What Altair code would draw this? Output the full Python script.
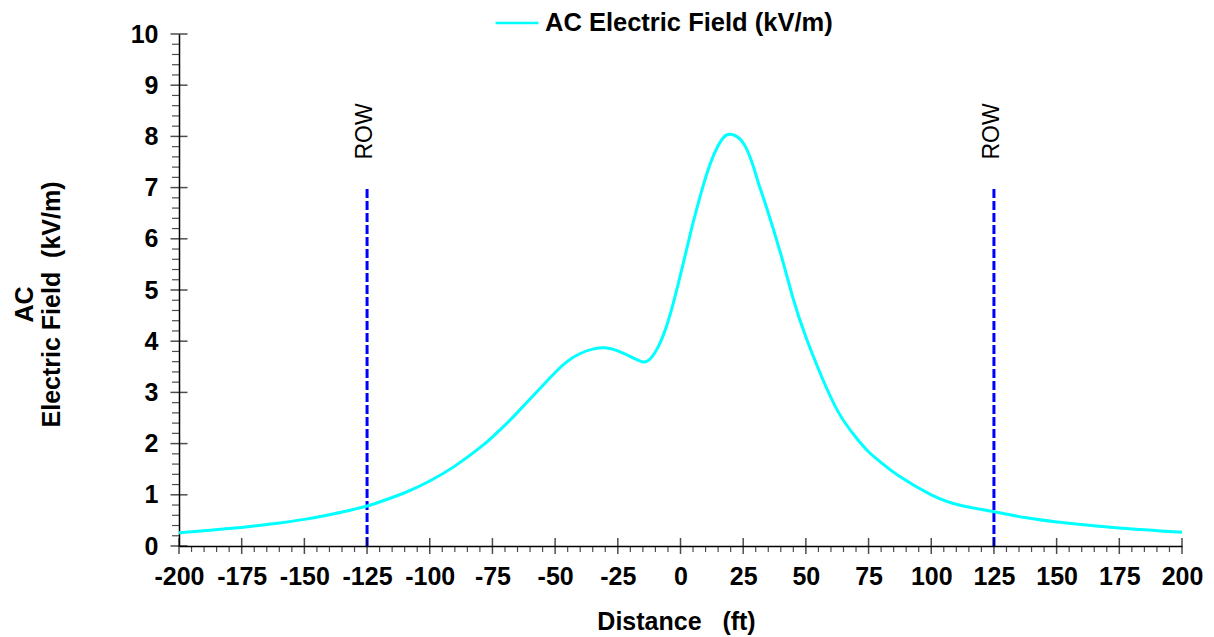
import altair as alt
import pandas as pd

# ---- data ----
distance_ft = [-200, -190, -180, -170, -160, -150, -140, -130, -125, -120, -110, -100,
               -90, -80, -75, -70, -65, -60, -55, -50, -45, -40, -35, -30, -25, -20,
               -17, -15, -13, -11, -9, -7, -5, -3, -1, 1, 3, 5, 9, 13, 17, 20, 23, 26, 29, 31,
               34, 40, 45, 50, 56, 63, 70, 75, 80, 87, 100, 112, 125, 138, 150, 160, 175, 190, 200]
e_field_kvm = [0.26, 0.30, 0.34, 0.39, 0.45, 0.52, 0.61, 0.72, 0.78, 0.86, 1.04, 1.27,
               1.56, 1.92, 2.13, 2.36, 2.61, 2.87, 3.13, 3.39, 3.61, 3.76, 3.845, 3.87, 3.81, 3.70,
               3.63, 3.595, 3.62, 3.72, 3.88, 4.10, 4.38, 4.72, 5.10, 5.50, 5.91, 6.31, 7.03, 7.61,
               7.97, 8.04, 7.98, 7.79, 7.42, 7.10,
               6.66, 5.70, 4.82, 4.08, 3.34, 2.61, 2.12, 1.84, 1.63, 1.37, 1.00, 0.79, 0.67,
               0.55, 0.47, 0.42, 0.35, 0.30, 0.27]
series_name = "AC Electric Field (kV/m)"

row_positions = [-125, 125]
row_labels = ["ROW", "ROW"]
row_top = [7, 7]
row_bottom = [0, 0]

x_major = list(range(-200, 201, 25))
x_minor = [v for v in range(-200, 201, 5) if v % 25 != 0]
y_major = list(range(0, 11))
y_minor = [round(i * 0.2, 1) for i in range(0, 51) if i % 5 != 0]

FONT = "Liberation Sans"

curve = pd.DataFrame({"Distance": distance_ft, "E": e_field_kvm,
                      "series": [series_name] * len(distance_ft)})
rows = pd.DataFrame({"x": row_positions, "y0": row_bottom, "y1": row_top, "label": row_labels})

xscale = alt.Scale(domain=[-200, 200], nice=False, zero=False)
yscale = alt.Scale(domain=[0, 10], nice=False, zero=False)

line = alt.Chart(curve).mark_line(strokeWidth=3, interpolate="natural").encode(
    x=alt.X("Distance:Q", scale=xscale,
            axis=alt.Axis(values=x_major, ticks=False, tickSize=0, labelPadding=18,
                          labelExpr="'' + datum.value",
                          labelFont=FONT, labelFontSize=25, labelFontWeight="bold",
                          labelColor="black", domainColor="black", domainWidth=1.5,
                          grid=False, labelFlush=False,
                          title="Distance\u00a0\u00a0\u00a0(ft)", titleFont=FONT,
                          titleFontSize=25, titleFontWeight="bold", titleColor="black",
                          titleX=497, titleY=83, titleAlign="center",
                          titleBaseline="alphabetic")),
    y=alt.Y("E:Q", scale=yscale,
            axis=alt.Axis(values=y_major, ticks=False, tickSize=0, labelPadding=21,
                          labelExpr="'' + datum.value",
                          labelFont=FONT, labelFontSize=25, labelFontWeight="bold",
                          labelColor="black", domainColor="black", domainWidth=1.5,
                          grid=False, labelFlush=False,
                          title=["AC", "Electric Field\u00a0\u00a0(kV/m)"], titleFont=FONT,
                          titleFontSize=25, titleFontWeight="bold", titleColor="black",
                          titleAngle=270, titleX=-167, titleY=270, titleAlign="center",
                          titleBaseline="top", titleLineHeight=27)),
    color=alt.Color("series:N", scale=alt.Scale(range=["#00FFFF"]),
                    legend=alt.Legend(orient="none", legendX=315, legendY=-34, title=None,
                                      symbolType="stroke", symbolSize=1849,
                                      symbolStrokeWidth=2.5, labelOffset=5,
                                      labelFont=FONT, labelFontSize=25.5,
                                      labelFontWeight="bold", labelColor="black",
                                      padding=0, labelLimit=0)),
)

x_major_ticks = alt.Chart(pd.DataFrame({"v": x_major})).mark_tick(
    orient="vertical", size=16, thickness=1.5, color="black").encode(
    x=alt.X("v:Q", scale=xscale), y=alt.datum(0))
x_minor_ticks = alt.Chart(pd.DataFrame({"v": x_minor})).mark_tick(
    orient="vertical", size=6, thickness=1.2, color="black", yOffset=3).encode(
    x=alt.X("v:Q", scale=xscale), y=alt.datum(0))
y_major_ticks = alt.Chart(pd.DataFrame({"v": y_major})).mark_tick(
    orient="horizontal", size=17, thickness=1.5, color="black").encode(
    y=alt.Y("v:Q", scale=yscale), x=alt.datum(-200))
y_minor_ticks = alt.Chart(pd.DataFrame({"v": y_minor})).mark_tick(
    orient="horizontal", size=7, thickness=1.2, color="black", xOffset=-3.5).encode(
    y=alt.Y("v:Q", scale=yscale), x=alt.datum(-200))

row_lines = alt.Chart(rows).mark_rule(strokeDash=[9, 3], strokeWidth=3, color="#0000FF").encode(
    x=alt.X("x:Q", scale=xscale), y=alt.Y("y0:Q", scale=yscale), y2="y1:Q")
row_text = alt.Chart(rows).mark_text(angle=270, align="left", baseline="alphabetic",
                                     dx=28, dy=5, fontSize=23, font=FONT,
                                     color="black").encode(
    x=alt.X("x:Q", scale=xscale), y=alt.Y("y1:Q", scale=yscale), text="label:N")

chart = alt.layer(row_lines, line, row_text, x_minor_ticks, x_major_ticks,
                  y_minor_ticks, y_major_ticks).properties(
    width=1003, height=512,
    autosize=alt.AutoSizeParams(type="none"),
    padding={"left": 171, "top": 26, "right": 24, "bottom": 90},
    background="white",
).configure_view(stroke=None)

chart.save("out.html", embed_options={"renderer": "svg", "actions": False})
